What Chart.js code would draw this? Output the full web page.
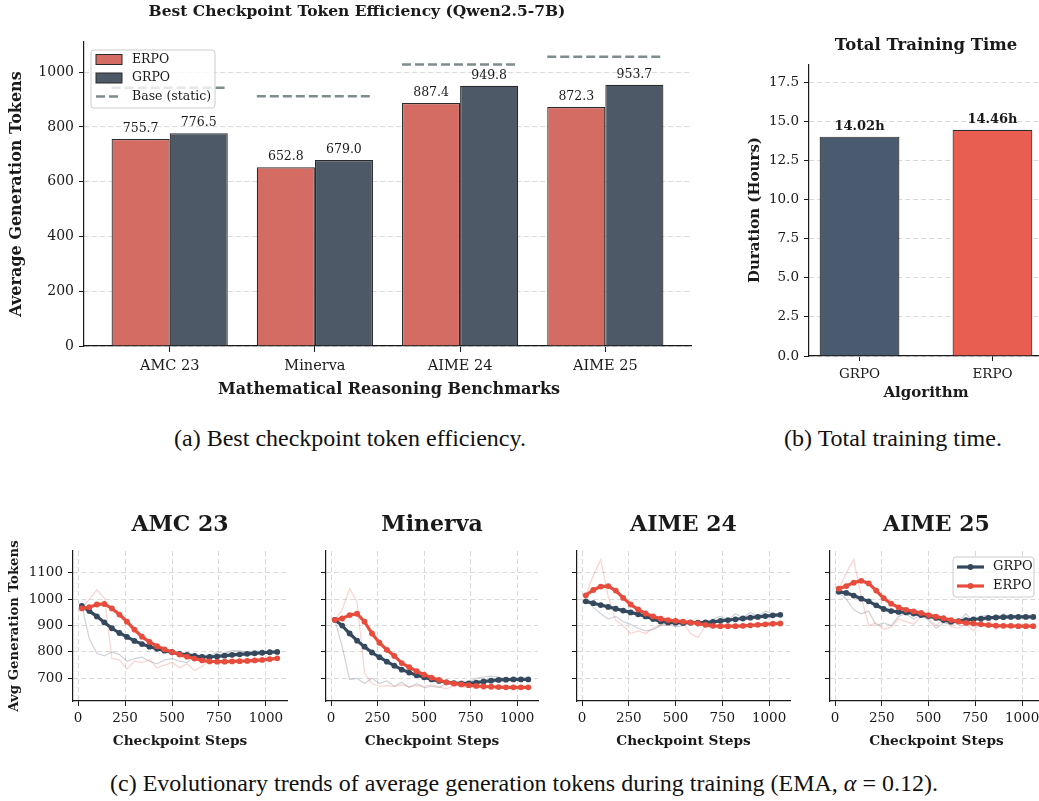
<!DOCTYPE html>
<html>
<head>
<meta charset="utf-8">
<title>ERPO vs GRPO: token efficiency and training time</title>
<script src="https://cdn.jsdelivr.net/npm/chart.js@4.4.1/dist/chart.umd.min.js"></script>
<style>
  html, body { margin: 0; padding: 0; background: #fff; }
  body { position: relative; width: 1039px; height: 801px; overflow: hidden; }
  canvas { position: absolute; }
  .cap { position: absolute; transform: translateX(-50%); white-space: nowrap;
         font-family: "Liberation Serif", "Times New Roman", serif; font-size: 24px; color: #111; }
</style>
</head>
<body>
<canvas id="effChart"></canvas>
<canvas id="timeChart"></canvas>
<canvas id="trendAmc"></canvas>
<canvas id="trendMinerva"></canvas>
<canvas id="trendAime24"></canvas>
<canvas id="trendAime25"></canvas>
<div class="cap" style="left:350px; top:425px;">(a) Best checkpoint token efficiency.</div>
<div class="cap" style="left:893px; top:425px;">(b) Total training time.</div>
<div class="cap" style="left:524px; top:770px;">(c) Evolutionary trends of average generation tokens during training (EMA, <i>α</i> = 0.12).</div>

<script>
// ---------- data ----------
const benchmarks = ['AMC 23', 'Minerva', 'AIME 24', 'AIME 25'];
const erpoBest = [755.7, 652.8, 887.4, 872.3];
const grpoBest = [776.5, 679.0, 949.8, 953.7];
const baseStatic = [943, 912, 1028, 1056];

const algorithms = ['GRPO', 'ERPO'];
const trainHours = [14.02, 14.46];

const steps = [20, 60, 100, 140, 180, 220, 260, 300, 340, 380, 420, 460, 500, 540,
               580, 620, 660, 700, 740, 780, 820, 860, 900, 940, 980, 1020, 1060];

const amcGrpoRaw = [975, 850, 795, 785, 800, 790, 765, 775, 780, 765, 755, 770, 775, 765,
                    760, 780, 790, 785, 800, 795, 805, 805, 800, 805, 800, 805, 800];
const amcErpoRaw = [965, 1000, 1035, 1005, 775, 770, 735, 765, 760, 770, 740, 750, 760, 740,
                    755, 730, 745, 770, 760, 765, 760, 765, 760, 765, 765, 770, 770];
const amcGrpoEma = [975, 955, 935, 912, 890, 872, 857, 842, 830, 820, 812, 805, 799, 793,
                    789, 785, 781, 781, 783, 786, 789, 791, 793, 795, 797, 799, 800];
const amcErpoEma = [965, 970, 980, 982, 965, 942, 915, 885, 858, 838, 822, 810, 800, 790,
                    782, 775, 768, 764, 763, 763, 764, 765, 766, 768, 770, 773, 776];

const minervaGrpoRaw = [922, 820, 695, 700, 680, 700, 680, 690, 670, 685, 665, 680, 665, 670,
                        665, 680, 680, 690, 685, 700, 705, 708, 705, 700, 695, 695, 695];
const minervaErpoRaw = [922, 960, 1040, 990, 720, 680, 670, 672, 668, 675, 668, 672, 670, 675,
                        668, 660, 672, 668, 665, 672, 678, 668, 662, 666, 660, 665, 665];
const minervaGrpoEma = [922, 900, 870, 843, 820, 798, 780, 763, 748, 733, 722, 712, 704, 696,
                        690, 685, 682, 680, 681, 684, 688, 691, 694, 695, 696, 696, 696];
const minervaErpoEma = [922, 927, 940, 945, 915, 870, 835, 808, 785, 758, 742, 727, 714, 703,
                        694, 685, 680, 677, 674, 671, 669, 668, 667, 666, 666, 666, 666];

const aime24GrpoRaw = [993, 970, 945, 925, 935, 915, 905, 890, 880, 885, 900, 905, 895, 900,
                       915, 900, 905, 925, 935, 920, 945, 930, 950, 935, 955, 945, 945];
const aime24ErpoRaw = [1015, 1090, 1150, 1010, 920, 900, 870, 880, 870, 890, 905, 900, 910, 915,
                       870, 855, 900, 890, 905, 890, 900, 895, 905, 900, 910, 910, 905];
const aime24GrpoEma = [992, 985, 978, 971, 964, 957, 950, 943, 935, 925, 916, 912, 911, 910,
                       911, 911, 912, 914, 918, 921, 924, 927, 930, 933, 936, 939, 941];
const aime24ErpoEma = [1015, 1035, 1048, 1050, 1033, 1005, 980, 961, 946, 935, 926, 921, 918, 915,
                       912, 908, 903, 899, 898, 898, 898, 899, 901, 903, 905, 907, 908];

const aime25GrpoRaw = [1028, 1000, 960, 945, 955, 900, 910, 900, 935, 945, 925, 940, 920, 890,
                       910, 905, 915, 945, 915, 935, 940, 920, 945, 930, 940, 935, 935];
const aime25ErpoRaw = [1040, 1100, 1150, 1010, 900, 910, 885, 895, 925, 915, 905, 935, 925, 900,
                       925, 895, 890, 905, 880, 915, 925, 885, 905, 895, 900, 900, 895];
const aime25GrpoEma = [1028, 1024, 1014, 1002, 992, 977, 963, 955, 952, 950, 946, 940, 936, 929,
                       921, 915, 917, 921, 924, 926, 929, 931, 932, 933, 933, 933, 933];
const aime25ErpoEma = [1040, 1050, 1063, 1070, 1060, 1033, 1004, 983, 969, 960, 954, 948, 940, 934,
                       928, 921, 915, 910, 908, 905, 902, 900, 899, 899, 898, 898, 898];

// ---------- shared look ----------
const SERIF = '"DejaVu Serif", serif';
const C_GRPO = '#34495e', C_ERPO = '#e74c3c';
const GRID = '#d9d9d9', INK = '#1a1a1a';
Chart.defaults.font.family = SERIF;
Chart.defaults.color = INK;
Chart.defaults.animation = false;
Chart.defaults.plugins.legend.display = false;
Chart.defaults.plugins.tooltip.enabled = false;

// Place a canvas on the page and pin its plot area to fixed page coordinates.
function frame(id, box, area) {
  const c = document.getElementById(id);
  c.width = box.w; c.height = box.h;
  c.style.left = box.x + 'px'; c.style.top = box.y + 'px';
  return {
    canvas: c, ox: box.x, oy: box.y,
    padding: { left: 0, top: area.t - box.y, right: box.x + box.w - area.r, bottom: 0 },
    fitX: s => { s.height = box.y + box.h - area.b; s.paddingLeft = 0; s.paddingRight = 0; },
    fitY: s => { s.width = area.l - box.x; s.paddingTop = 0; s.paddingBottom = 0; }
  };
}

function overlay(fn) {
  return { id: 'overlay', afterDraw(chart) { fn(chart.ctx, chart); } };
}

function text(ctx, f, str, x, y, font, o = {}) {
  ctx.save();
  ctx.font = font;
  ctx.fillStyle = o.color || INK;
  ctx.textAlign = o.align || 'center';
  ctx.textBaseline = o.baseline || 'middle';
  ctx.translate(x - f.ox, y - f.oy);
  if (o.rotate) ctx.rotate(o.rotate);
  ctx.fillText(str, 0, 0);
  ctx.restore();
}

function roundBox(ctx, x, y, w, h, r) {
  ctx.beginPath();
  ctx.moveTo(x + r, y);
  ctx.arcTo(x + w, y, x + w, y + h, r);
  ctx.arcTo(x + w, y + h, x, y + h, r);
  ctx.arcTo(x, y + h, x, y, r);
  ctx.arcTo(x, y, x + w, y, r);
  ctx.closePath();
  ctx.fillStyle = 'rgba(255,255,255,0.8)';
  ctx.fill();
  ctx.strokeStyle = '#cccccc';
  ctx.lineWidth = 1;
  ctx.stroke();
}

function tickStyle(len) {
  return { drawTicks: true, tickLength: len, tickColor: INK, tickWidth: 1, tickBorderDash: [] };
}
const plain = v => String(v);

// ---------- (a) best checkpoint token efficiency ----------
(function () {
  const f = frame('effChart', { x: 0, y: 0, w: 720, h: 420 }, { l: 84, t: 42, r: 691, b: 346 });
  const C_ERPO_BAR = '#d46c63', C_GRPO_BAR = '#4d5966', C_BASE = '#7f8c8d';
  const basePts = baseStatic.flatMap((v, i) => [
    { x: i - 0.4, y: v }, { x: i + 0.4, y: v }, { x: i + 0.5, y: null }
  ]);
  new Chart(f.canvas, {
    type: 'bar',
    data: {
      datasets: [
        { type: 'bar', label: 'ERPO', data: erpoBest.map((v, i) => ({ x: i, y: v })),
          backgroundColor: C_ERPO_BAR, borderColor: '#2b2b2b', borderWidth: 1.2, borderSkipped: 'start',
          categoryPercentage: 0.8, barPercentage: 1.0 },
        { type: 'bar', label: 'GRPO', data: grpoBest.map((v, i) => ({ x: i, y: v })),
          backgroundColor: C_GRPO_BAR, borderColor: '#2b2b2b', borderWidth: 1.2, borderSkipped: 'start',
          categoryPercentage: 0.8, barPercentage: 1.0 },
        { type: 'line', label: 'Base (static)', data: basePts, borderColor: C_BASE, borderWidth: 2.6,
          borderDash: [9, 4], pointRadius: 0, spanGaps: false, fill: false }
      ]
    },
    options: {
      responsive: false, devicePixelRatio: 1,
      layout: { padding: f.padding },
      scales: {
        x: { type: 'linear', min: -0.59, max: 3.59, offset: false, afterFit: f.fitX,
             grid: { display: true, offset: false, drawOnChartArea: false, ...tickStyle(6) },
             border: { display: true, color: INK, width: 1.2 },
             ticks: { stepSize: 1, includeBounds: false, autoSkip: false, maxRotation: 0, padding: 6,
                      font: { size: 14.5 }, color: INK, callback: v => benchmarks[v] ?? '' } },
        y: { min: 0, max: 1110, afterFit: f.fitY,
             grid: { color: GRID, lineWidth: 1, ...tickStyle(5) },
             border: { display: true, color: INK, width: 1.2, dash: [5, 3] },
             ticks: { stepSize: 200, includeBounds: false, padding: 5, font: { size: 14 }, color: INK,
                      callback: plain } }
      }
    },
    plugins: [overlay((ctx, chart) => {
      // value labels above bars
      [0, 1].forEach(di => {
        chart.getDatasetMeta(di).data.forEach((bar, i) => {
          const v = chart.data.datasets[di].data[i].y;
          text(ctx, { ox: 0, oy: 0 }, v.toFixed(1), bar.x, bar.y - 4, `12.5px ${SERIF}`, { baseline: 'bottom' });
        });
      });
      // legend
      roundBox(ctx, 91, 50, 124, 58, 3);
      const rows = [
        { label: 'ERPO', y: 59.5, kind: 'rect', color: C_ERPO_BAR },
        { label: 'GRPO', y: 78, kind: 'rect', color: C_GRPO_BAR },
        { label: 'Base (static)', y: 96.5, kind: 'dash', color: C_BASE }
      ];
      rows.forEach(r => {
        ctx.save();
        if (r.kind === 'rect') {
          ctx.fillStyle = r.color; ctx.fillRect(96, r.y - 5, 26, 10);
          ctx.strokeStyle = '#2b2b2b'; ctx.lineWidth = 1; ctx.strokeRect(96, r.y - 5, 26, 10);
        } else {
          ctx.strokeStyle = r.color; ctx.lineWidth = 2.6; ctx.setLineDash([9, 4]);
          ctx.beginPath(); ctx.moveTo(96, r.y); ctx.lineTo(122, r.y); ctx.stroke();
        }
        ctx.restore();
        text(ctx, { ox: 0, oy: 0 }, r.label, 132, r.y, `12.5px ${SERIF}`, { align: 'left' });
      });
      // titles
      text(ctx, f, 'Best Checkpoint Token Efficiency (Qwen2.5-7B)', 357, 12, `bold 15.5px ${SERIF}`);
      text(ctx, f, 'Average Generation Tokens', 17, 194, `bold 16px ${SERIF}`, { rotate: -Math.PI / 2 });
      text(ctx, f, 'Mathematical Reasoning Benchmarks', 389, 390, `bold 16px ${SERIF}`);
    })]
  });
})();

// ---------- (b) total training time ----------
(function () {
  const f = frame('timeChart', { x: 730, y: 25, w: 320, h: 385 }, { l: 809, t: 65, r: 1043, b: 356 });
  new Chart(f.canvas, {
    type: 'bar',
    data: {
      datasets: [
        { label: 'Duration', data: trainHours.map((v, i) => ({ x: i, y: v })),
          backgroundColor: ['#4a5b70', '#e85e50'], borderColor: '#2e2e2e', borderWidth: 1.2,
          borderSkipped: 'start', categoryPercentage: 0.6, barPercentage: 1.0 }
      ]
    },
    options: {
      responsive: false, devicePixelRatio: 1,
      layout: { padding: f.padding },
      scales: {
        x: { type: 'linear', min: -0.38, max: 1.38, offset: false, afterFit: f.fitX,
             grid: { display: true, offset: false, drawOnChartArea: false, ...tickStyle(5) },
             border: { display: true, color: INK, width: 1.2 },
             ticks: { stepSize: 1, includeBounds: false, autoSkip: false, maxRotation: 0, padding: 5,
                      font: { size: 13.5 }, color: INK, callback: v => algorithms[v] ?? '' } },
        y: { min: 0, max: 18.6, afterFit: f.fitY,
             grid: { color: GRID, lineWidth: 1, ...tickStyle(5) },
             border: { display: true, color: INK, width: 1.2, dash: [5, 3] },
             ticks: { stepSize: 2.5, includeBounds: false, padding: 5, font: { size: 13.5 }, color: INK,
                      callback: v => v.toFixed(1) } }
      }
    },
    plugins: [overlay((ctx, chart) => {
      chart.getDatasetMeta(0).data.forEach((bar, i) => {
        text(ctx, { ox: 0, oy: 0 }, trainHours[i].toFixed(2) + 'h', bar.x, bar.y - 4,
             `bold 13px ${SERIF}`, { baseline: 'bottom' });
      });
      text(ctx, f, 'Total Training Time', 926, 46, `bold 16.5px ${SERIF}`);
      text(ctx, f, 'Duration (Hours)', 755, 210, `bold 15px ${SERIF}`, { rotate: -Math.PI / 2 });
      text(ctx, f, 'Algorithm', 926, 393, `bold 15px ${SERIF}`);
    })]
  });
})();

// ---------- (c) training trends per benchmark ----------
const trendPanels = [
  { id: 'trendAmc', name: 'AMC 23', grpoRaw: amcGrpoRaw, erpoRaw: amcErpoRaw, grpoEma: amcGrpoEma, erpoEma: amcErpoEma },
  { id: 'trendMinerva', name: 'Minerva', grpoRaw: minervaGrpoRaw, erpoRaw: minervaErpoRaw, grpoEma: minervaGrpoEma, erpoEma: minervaErpoEma },
  { id: 'trendAime24', name: 'AIME 24', grpoRaw: aime24GrpoRaw, erpoRaw: aime24ErpoRaw, grpoEma: aime24GrpoEma, erpoEma: aime24ErpoEma },
  { id: 'trendAime25', name: 'AIME 25', grpoRaw: aime25GrpoRaw, erpoRaw: aime25ErpoRaw, grpoEma: aime25GrpoEma, erpoEma: aime25ErpoEma }
];
const panelFrames = [
  { box: { x: 0, y: 505, w: 300, h: 255 }, area: { l: 73, t: 551, r: 287, b: 701 } },
  { box: { x: 300, y: 505, w: 250, h: 255 }, area: { l: 326, t: 551, r: 538, b: 701 } },
  { box: { x: 552, y: 505, w: 250, h: 255 }, area: { l: 577, t: 551, r: 790, b: 701 } },
  { box: { x: 805, y: 505, w: 250, h: 255 }, area: { l: 830, t: 551, r: 1043, b: 701 } }
];
const pts = arr => steps.map((s, i) => ({ x: s, y: arr[i] }));

trendPanels.forEach((p, k) => {
  const pf = panelFrames[k];
  const f = frame(p.id, pf.box, pf.area);
  const cx = (pf.area.l + pf.area.r) / 2;
  new Chart(f.canvas, {
    type: 'line',
    data: {
      datasets: [
        { label: 'GRPO raw', data: pts(p.grpoRaw), borderColor: 'rgba(52,73,94,0.24)', borderWidth: 1.2,
          pointRadius: 0, tension: 0, order: 4 },
        { label: 'ERPO raw', data: pts(p.erpoRaw), borderColor: 'rgba(231,76,60,0.24)', borderWidth: 1.2,
          pointRadius: 0, tension: 0, order: 3 },
        { label: 'GRPO', data: pts(p.grpoEma), borderColor: C_GRPO, backgroundColor: C_GRPO, borderWidth: 3.2,
          pointRadius: 2.9, pointBorderWidth: 0, pointBackgroundColor: C_GRPO, tension: 0, order: 2 },
        { label: 'ERPO', data: pts(p.erpoEma), borderColor: C_ERPO, backgroundColor: C_ERPO, borderWidth: 3.2,
          pointRadius: 2.9, pointBorderWidth: 0, pointBackgroundColor: C_ERPO, tension: 0, order: 1 }
      ]
    },
    options: {
      responsive: false, devicePixelRatio: 1,
      layout: { padding: f.padding },
      scales: {
        x: { type: 'linear', min: -27, max: 1112, afterFit: f.fitX,
             grid: { color: GRID, lineWidth: 1, ...tickStyle(5) },
             border: { display: true, color: INK, width: 1.2, dash: [5, 3] },
             ticks: { stepSize: 250, includeBounds: false, autoSkip: false, maxRotation: 0, padding: 4,
                      font: { size: 13.5 }, color: INK, callback: plain } },
        y: { min: 614, max: 1183, afterFit: f.fitY,
             grid: { color: GRID, lineWidth: 1, ...tickStyle(5) },
             border: { display: true, color: INK, width: 1.2, dash: [5, 3] },
             ticks: { stepSize: 100, includeBounds: false, padding: 5, font: { size: 13.5 }, color: INK,
                      callback: v => (k === 0 ? String(v) : '') } }
      }
    },
    plugins: [overlay((ctx) => {
      text(ctx, f, p.name, cx, 525, `bold 22px ${SERIF}`);
      text(ctx, f, 'Checkpoint Steps', cx, 741, `bold 13.7px ${SERIF}`);
      if (k === 0) {
        text(ctx, f, 'Avg Generation Tokens', 15, 626, `bold 13.3px ${SERIF}`, { rotate: -Math.PI / 2 });
      }
      if (k === 3) {
        const lx = 953 - f.ox;
        ctx.save(); ctx.translate(-f.ox, -f.oy);
        roundBox(ctx, 953, 557, 81, 40, 3);
        ctx.restore();
        [{ label: 'GRPO', c: C_GRPO, y: 567 }, { label: 'ERPO', c: C_ERPO, y: 586 }].forEach(r => {
          const y = r.y - f.oy;
          ctx.save();
          ctx.strokeStyle = r.c; ctx.lineWidth = 3.2;
          ctx.beginPath(); ctx.moveTo(lx + 4, y); ctx.lineTo(lx + 31, y); ctx.stroke();
          ctx.fillStyle = r.c; ctx.beginPath(); ctx.arc(lx + 17.5, y, 2.9, 0, Math.PI * 2); ctx.fill();
          ctx.restore();
          text(ctx, f, r.label, 993, r.y, `13px ${SERIF}`, { align: 'left' });
        });
      }
    })]
  });
});
</script>
</body>
</html>
